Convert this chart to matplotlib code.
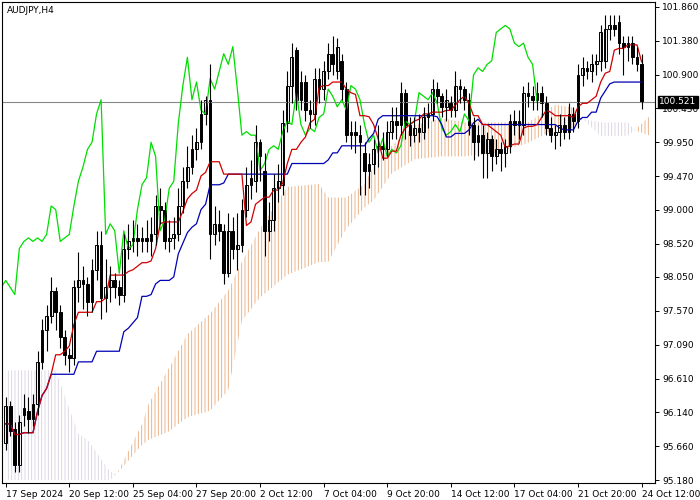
import matplotlib
matplotlib.use("Agg")
import matplotlib.pyplot as plt
import numpy as np
import pandas as pd

# AUDJPY H4 candles: open, high, low, close
opens = [95.71, 96.22, 95.90, 95.40, 96.10, 96.15, 96.05, 96.25, 96.85, 97.30,
         97.50, 97.85, 97.55, 97.20, 96.95, 96.90, 97.90, 98.00, 97.95, 97.70,
         98.15, 98.50, 97.75, 97.90, 98.00, 97.90, 97.80, 98.45, 98.55, 98.60,
         98.55, 98.60, 98.55, 98.65, 99.05, 99.00, 98.55, 98.60, 98.65, 99.05,
         99.40, 99.60, 99.85, 99.95, 100.35, 100.55, 98.65, 98.80, 98.70, 98.10,
         98.70, 98.45, 98.50, 99.00, 99.35, 99.40, 99.95, 99.55, 98.70, 98.85,
         99.30, 99.35, 100.22, 100.75, 101.25, 100.55, 100.80, 100.40, 100.35, 100.85,
         100.70, 100.95, 101.20, 100.95, 101.10, 100.70, 100.05, 100.10, 99.95, 99.80,
         99.55, 99.65, 99.85, 99.90, 99.85, 100.10, 100.25, 100.20, 100.65, 100.20,
         100.05, 100.15, 100.10, 100.30, 100.35, 100.70, 100.60, 100.45, 100.50, 100.40,
         100.75, 100.70, 100.55, 100.20, 99.95, 100.05, 99.80, 100.00, 99.75, 99.85,
         99.80, 99.90, 100.25, 100.20, 100.20, 100.65, 100.60, 100.55, 100.65, 100.50,
         100.15, 100.05, 100.10, 100.20, 100.10, 100.35, 100.25, 100.90, 101.00, 100.95,
         101.05, 101.10, 101.10, 101.55, 101.60, 101.65, 101.35, 101.30, 101.35, 101.15,
         101.05]
highs = [96.35, 96.30, 96.00, 96.10, 96.40, 96.35, 96.40, 97.00, 97.45, 97.65,
         98.05, 97.90, 97.65, 97.30, 97.05, 98.00, 98.40, 98.20, 98.05, 98.30,
         98.70, 98.70, 98.30, 98.20, 98.10, 98.00, 98.65, 98.80, 98.85, 98.80,
         98.75, 98.85, 98.90, 99.20, 99.30, 99.10, 98.85, 98.90, 99.30, 99.60,
         99.90, 100.05, 100.15, 100.55, 100.60, 101.05, 99.05, 99.00, 98.80, 98.95,
         98.90, 98.95, 99.15, 99.60, 99.70, 100.20, 100.00, 99.80, 99.10, 99.50,
         99.65, 100.40, 100.95, 101.35, 101.30, 100.95, 100.90, 100.55, 101.00, 101.00,
         101.10, 101.35, 101.45, 101.42, 101.20, 100.80, 100.25, 100.25, 100.20, 99.95,
         99.80, 100.00, 100.20, 100.10, 100.25, 100.45, 100.45, 100.80, 100.70, 100.30,
         100.30, 100.35, 100.45, 100.50, 100.85, 100.80, 100.65, 100.70, 100.60, 100.95,
         100.85, 100.75, 100.65, 100.30, 100.20, 100.20, 100.10, 100.05, 100.00, 99.95,
         100.00, 100.35, 100.40, 100.40, 100.75, 100.80, 100.75, 100.80, 100.75, 100.60,
         100.30, 100.20, 100.35, 100.30, 100.50, 100.45, 101.05, 101.15, 101.10, 101.20,
         101.20, 101.60, 101.75, 101.75, 101.75, 101.75, 101.45, 101.45, 101.45, 101.30,
         101.20]
lows = [95.60, 95.80, 95.30, 95.30, 95.95, 95.85, 95.95, 96.10, 96.75, 97.00,
        97.40, 97.30, 97.05, 96.80, 96.70, 96.80, 97.70, 97.60, 97.50, 97.55,
        98.00, 97.45, 97.55, 97.70, 97.75, 97.65, 97.70, 98.30, 98.40, 98.35,
        98.40, 98.40, 98.35, 98.50, 98.80, 98.45, 98.40, 98.45, 98.55, 98.95,
        99.30, 99.50, 99.70, 99.85, 100.20, 98.30, 98.50, 98.55, 97.95, 98.05,
        98.30, 98.15, 98.40, 98.90, 99.15, 99.25, 99.40, 98.35, 98.55, 98.70,
        99.10, 99.20, 100.10, 100.50, 100.40, 100.40, 100.25, 100.15, 100.20, 100.50,
        100.55, 100.85, 100.90, 100.85, 100.55, 99.95, 99.85, 99.80, 99.20, 99.20,
        99.30, 99.50, 99.60, 99.70, 99.75, 100.00, 100.00, 100.05, 100.00, 99.90,
        99.95, 99.95, 100.00, 100.15, 100.25, 100.50, 100.30, 100.25, 100.30, 100.30,
        100.50, 100.40, 100.05, 99.70, 99.75, 99.45, 99.45, 99.55, 99.65, 99.55,
        99.60, 99.80, 100.05, 100.00, 100.05, 100.45, 100.40, 100.40, 100.30, 100.05,
        99.95, 99.85, 99.90, 100.00, 100.00, 100.10, 100.15, 100.75, 100.85, 100.80,
        100.90, 100.95, 101.00, 101.40, 101.45, 101.20, 100.90, 101.10, 101.05, 100.95,
        100.42]
closes = [96.22, 95.88, 95.40, 96.00, 96.20, 96.05, 96.25, 96.85, 97.30, 97.50,
          97.85, 97.55, 97.20, 96.95, 96.90, 97.90, 98.00, 97.95, 97.70, 98.15,
          98.50, 97.75, 97.90, 98.00, 97.90, 97.80, 98.45, 98.55, 98.60, 98.55,
          98.60, 98.55, 98.65, 99.05, 99.00, 98.55, 98.60, 98.65, 99.05, 99.40,
          99.60, 99.85, 99.95, 100.35, 100.55, 98.65, 98.80, 98.70, 98.10, 98.70,
          98.45, 98.50, 99.00, 99.35, 99.45, 99.95, 99.75, 98.70, 98.85, 99.30,
          99.40, 100.22, 100.75, 101.15, 100.55, 100.80, 100.40, 100.35, 100.85, 100.70,
          100.95, 101.20, 101.05, 101.30, 100.70, 100.05, 100.10, 100.05, 100.05, 99.55,
          99.65, 99.85, 99.90, 99.85, 100.10, 100.25, 100.20, 100.65, 100.20, 100.05,
          100.15, 100.10, 100.30, 100.35, 100.70, 100.60, 100.45, 100.55, 100.40, 100.75,
          100.70, 100.55, 100.20, 99.95, 100.05, 99.80, 100.00, 99.75, 99.85, 99.80,
          99.90, 100.25, 100.20, 100.25, 100.65, 100.60, 100.55, 100.65, 100.50, 100.15,
          100.05, 100.10, 100.20, 100.10, 100.35, 100.25, 100.90, 101.00, 100.95, 101.05,
          101.10, 101.50, 101.55, 101.60, 101.55, 101.35, 101.30, 101.35, 101.15, 101.05,
          100.52]

# Ichimoku cloud (bar index, senkou A, senkou B)
cloud_idx = [0, 11, 16, 18, 23, 24.5, 30, 31.5, 36, 40, 45, 49, 52, 56, 62, 69, 71, 75,
             79, 81, 85, 90, 96, 101, 108, 115, 121, 125, 127, 131, 137, 138.5, 142]
span_a = [95.18, 95.18, 95.18, 95.18, 95.18, 95.27, 95.97, 96.26, 96.77, 97.24, 97.53,
          97.86, 98.26, 98.73, 99.32, 99.36, 99.17, 99.17, 99.36, 99.61, 99.90, 100.19,
          100.29, 100.23, 100.23, 100.23, 100.48, 100.44, 100.28, 100.04, 100.04, 100.12, 100.33]
span_b = [96.73, 96.73, 95.83, 95.75, 95.30, 95.27, 95.68, 95.75, 95.87, 96.07, 96.16,
          96.45, 97.43, 97.76, 98.08, 98.26, 98.26, 98.73, 99.03, 99.13, 99.51, 99.71,
          99.75, 99.75, 99.80, 99.94, 100.14, 100.14, 100.28, 100.23, 100.23, 100.12, 100.04]

yticks = [95.180, 95.660, 96.140, 96.610, 97.090, 97.570, 98.050, 98.520,
          99.000, 99.470, 99.950, 100.430, 100.900, 101.380, 101.860]
xlabels = ['17 Sep 2024', '20 Sep 12:00', '25 Sep 04:00', '27 Sep 20:00', '2 Oct 12:00',
           '7 Oct 04:00', '9 Oct 20:00', '14 Oct 12:00', '17 Oct 04:00', '21 Oct 20:00',
           '24 Oct 12:00']
last_price = 100.521

# periods/shift in this sampled bar count (fewer bars than the original chart)
TENKAN, KIJUN, SHIFT = 8, 23, 23

df = pd.DataFrame({'o': opens, 'h': highs, 'l': lows, 'c': closes})
n = len(df)
x = np.arange(n)
tenkan = (df.h.rolling(TENKAN, min_periods=1).max() + df.l.rolling(TENKAN, min_periods=1).min()) / 2
kijun = (df.h.rolling(KIJUN, min_periods=1).max() + df.l.rolling(KIJUN, min_periods=1).min()) / 2

plt.rcParams['hatch.linewidth'] = 0.6
fig = plt.figure(figsize=(7, 5), dpi=100)
ax = fig.add_axes([0.003, 0.034, 0.933, 0.962])

ca = np.array(span_a); cb = np.array(span_b)
ax.fill_between(cloud_idx, ca, cb, where=ca >= cb, interpolate=True, facecolor='none',
                edgecolor='#e8a878', hatch='|||||', linewidth=0)
ax.fill_between(cloud_idx, ca, cb, where=ca < cb, interpolate=True, facecolor='none',
                edgecolor='#d8d0e0', hatch='|||||', linewidth=0)

ax.axhline(last_price, color='#888888', lw=0.8)
ax.plot(x - SHIFT, df.c, color='#00dd00', lw=0.9)
ax.plot(x, kijun, color='#0000b4', lw=0.9)
ax.plot(x, tenkan, color='#d00000', lw=0.9)

for i in range(n):
    o, h, l, c = opens[i], highs[i], lows[i], closes[i]
    ax.vlines(i, l, h, color='black', lw=0.8)
    fc = 'white' if c >= o else 'black'
    ax.bar(i, abs(c - o) if abs(c - o) > 0.01 else 0.01, bottom=min(o, c), width=0.6,
           facecolor=fc, edgecolor='black', linewidth=0.7)

ax.set_xlim(-0.8, 143)
ax.set_ylim(95.14, 101.93)
ax.yaxis.tick_right()
ax.set_yticks(yticks)
ax.set_yticklabels(['%.3f' % v for v in yticks], fontsize=6.5)
ax.set_xticks([k * 14.0 for k in range(len(xlabels))])
ax.set_xticklabels(xlabels, fontsize=6.5, ha='left')
ax.tick_params(length=3, width=0.7, pad=2)
for s in ax.spines.values():
    s.set_linewidth(0.8)
ax.text(0.008, 0.992, 'AUDJPY,H4', transform=ax.transAxes, fontsize=6.5, va='top', ha='left')
ax.text(1.006, last_price, '%.3f' % last_price, transform=ax.get_yaxis_transform(),
        fontsize=6.5, color='white', va='center', ha='left',
        bbox=dict(boxstyle='square,pad=0.15', facecolor='black', edgecolor='black'))

fig.savefig('out.png', dpi=100)
